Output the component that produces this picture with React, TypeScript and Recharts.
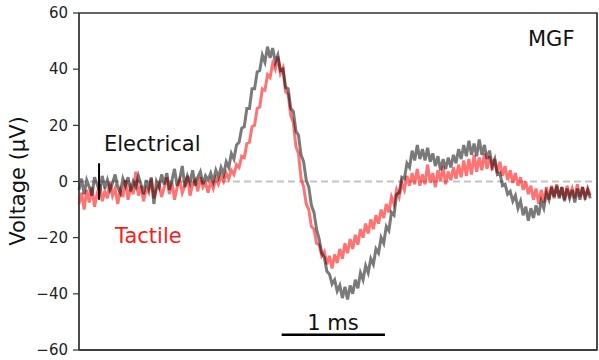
import React from 'react';
import { LineChart, Line, XAxis, YAxis, ReferenceLine, ReferenceDot, ReferenceArea } from 'recharts';

// sampling interval of the averaged traces (ms)
const SAMPLE_MS = 0.025;

// Averaged MGF response to electrical stimulation (µV)
const electrical: number[] = [
  -3, 1, -4.5, 0.5, -2, -5, 1.5, -1, -3.5, 2,
  -2.5, 0.5, -3, -0.5, 2.5, -2, -4, 1, -1.5, 1.5,
  -3.5, 0, -2, 2, -1, -4.5, 0.5, -2.5, 1.5, -8,
  0, -2, 2.5, -1, 3, -3, 0.5, 4.5, -1.5, 1,
  5.5, -2, 2, -0.5, 4, -1.5, 1.5, 3.5, -1, 2,
  0.5, 3, 0, 4, 1.5, 5, 2.5, 7, 5, 10,
  8, 13, 14, 19, 19.5, 26, 26, 33, 33, 39,
  39.5, 45, 42.5, 48, 44, 47.5, 42.5, 45, 39.5, 40,
  33.5, 33, 26, 25, 18, 16.5, 9.5, 7, 0.5, -2,
  -8.5, -11, -17, -20.5, -25.5, -27, -32, -33, -36.5, -35,
  -39, -37, -41.5, -37.5, -42, -37, -40, -35, -38, -32.5,
  -35, -30, -32.5, -27.5, -29.5, -24, -25.5, -20, -22, -16,
  -17.5, -11, -12, -4.5, -4, 1.5, 1, 6.5, 5, 11,
  7.5, 13, 8, 11.5, 7.5, 12, 7, 10, 5.5, 9,
  4, 8, 4.5, 8.5, 5, 9.5, 6.5, 11.5, 8, 13,
  9, 14.5, 9.5, 13.5, 9, 15, 9.5, 13, 8, 11,
  5.5, 8, 2.5, 3, -1.5, -1, -4.5, -3.5, -7, -5,
  -9.5, -7, -12, -9, -14, -9.5, -13, -8.5, -12, -7,
  -9.5, -4, -6.5, -2, -5.5, -1.5, -6, -2, -7, -2.5,
  -6, -3, -7.5, -2.5, -6.5, -2, -5.5, -3, -6,
];

// Averaged MGF response to tactile stimulation (µV)
const tactile: number[] = [
  -8, -4, -10, -3, -7.5, -2, -9, -4.5, -1, -7,
  -3.5, -6, 0, -5, -2.5, -8, -3, -5.5, 0.5, -6.5,
  -2, -4.5, 3.5, -5, -1.5, -7, -2.5, -4, 1, -6,
  -3, -1, -5.5, -2, 1.5, -4.5, -0.5, -6.5, -2, 0.5,
  -4, -1.5, 2, -5, -1, 0.5, -3.5, 1.5, -2, -0.5,
  -4, 0, -2.5, 1, -1, 2, 0, 3, 1, 4,
  2.5, 6, 5, 9, 8.5, 13.5, 14, 19.5, 20, 26,
  26.5, 33, 32.5, 38, 37, 42, 40, 44.5, 38.5, 40.5,
  32, 31, 23.5, 21, 12.5, 10, 1, -2, -8, -10,
  -16, -17, -22, -22.5, -26.5, -25, -29.5, -26.5, -31, -26,
  -29, -24, -27.5, -22, -25.5, -20.5, -24, -19, -22.5, -17,
  -20, -15, -18.5, -13.5, -17, -12, -15, -10, -13, -8,
  -11, -5.5, -8, -3, -5.5, -0.5, -3, 2, -1.5, 3,
  -1, 4.5, -1.5, 2.5, -1, 6, -0.5, 3, -2, 4,
  0, 5.5, -1, 3.5, 0.5, 5, 1, 6, 1.5, 7.5,
  2, 8, 2.5, 9.5, 3.5, 8.5, 4, 10, 4.5, 9,
  4, 8, 3, 7, 2, 5.5, 0.5, 4, -0.5, 3,
  -1.5, 1.5, -3, 0, -4.5, -1.5, -6.5, -2.5, -8, -3,
  -7.5, -2, -6.5, -1.5, -6, -1, -5.5, -2, -6.5, -1.5,
  -5, -2.5, -6, -1, -5.5, -2, -6.5, -2.5, -5,
];

const yTicks = [-60, -40, -20, 0, 20, 40, 60];
const X_MAX_MS = 5.015;
const STIMULUS_MS = 0.194;
const STIMULUS_MARK = [6.5, -6.5];
const SCALE_BAR_MS = [1.962, 2.962];
const SCALE_BAR_LEVEL = -54.6;

const data = electrical.map((v, i) => ({
  t: Math.round(i * SAMPLE_MS * 1000) / 1000,
  electrical: v,
  tactile: tactile[i],
}));

const FONT = 'DejaVu Sans, sans-serif';

const fmt = (v: number) => (v < 0 ? `\u2212${Math.abs(v)}` : `${v}`);

const makeText = (label: string, color: string, anchor: 'start' | 'middle' = 'start') => (p: any) => (
  <text x={p.cx} y={p.cy} fill={color} fontSize={21} fontFamily={FONT} textAnchor={anchor}>
    {label}
  </text>
);

export default function App() {
  return (
    <div style={{ width: 599, height: 360, background: '#fff' }}>
      <style>{`body{margin:0;}`}</style>
      <LineChart
        width={599}
        height={360}
        data={data}
        margin={{ top: 13, right: 0, bottom: 0, left: 0 }}
      >
        <XAxis
          dataKey="t"
          type="number"
          domain={[0, X_MAX_MS]}
          tick={false}
          tickLine={false}
          height={10}
          axisLine={{ stroke: '#333', strokeWidth: 1.3 }}
        />
        <YAxis
          domain={[-60, 60]}
          ticks={yTicks}
          width={79}
          tickFormatter={fmt}
          tickSize={6}
          tickMargin={5}
          interval={0}
          axisLine={{ stroke: '#333', strokeWidth: 1.3 }}
          tickLine={{ stroke: '#333', strokeWidth: 1.2 }}
          tick={{ fill: '#222', fontSize: 15, fontFamily: FONT }}
          label={{
            content: () => (
              <text
                x={25}
                y={181}
                transform="rotate(-90 25 181)"
                textAnchor="middle"
                fontSize={21}
                fontFamily={FONT}
                fill="#111"
              >
                Voltage (µV)
              </text>
            ),
          }}
        />
        <YAxis
          yAxisId="right"
          orientation="right"
          domain={[-60, 60]}
          ticks={yTicks}
          width={2}
          tick={false}
          tickSize={4}
          axisLine={{ stroke: '#333', strokeWidth: 1.3 }}
          tickLine={{ stroke: '#333', strokeWidth: 1.2 }}
        />
        <ReferenceArea
          x1={0}
          x2={X_MAX_MS}
          y1={-60}
          y2={60}
          fill="none"
          stroke="#333"
          strokeWidth={1.3}
          ifOverflow="visible"
        />
        <ReferenceLine y={0} stroke="#c4c4c4" strokeWidth={2} strokeDasharray="7 4" />
        <Line
          dataKey="tactile"
          stroke="#ff0000"
          strokeOpacity={0.55}
          strokeWidth={3}
          dot={false}
          isAnimationActive={false}
          strokeLinejoin="miter"
        />
        <Line
          dataKey="electrical"
          stroke="#000000"
          strokeOpacity={0.52}
          strokeWidth={3}
          dot={false}
          isAnimationActive={false}
          strokeLinejoin="miter"
        />
        <ReferenceLine
          segment={[
            { x: STIMULUS_MS, y: STIMULUS_MARK[0] },
            { x: STIMULUS_MS, y: STIMULUS_MARK[1] },
          ]}
          stroke="#000"
          strokeWidth={2}
        />
        <ReferenceLine
          segment={[
            { x: SCALE_BAR_MS[0], y: SCALE_BAR_LEVEL },
            { x: SCALE_BAR_MS[1], y: SCALE_BAR_LEVEL },
          ]}
          stroke="#000"
          strokeWidth={2.5}
        />
        <ReferenceDot x={0.242} y={10.85} r={0} ifOverflow="visible" shape={makeText('Electrical', '#111')} />
        <ReferenceDot x={0.349} y={-21.9} r={0} ifOverflow="visible" shape={makeText('Tactile', '#ff1a1a')} />
        <ReferenceDot x={4.347} y={48.2} r={0} ifOverflow="visible" shape={makeText('MGF', '#111')} />
        <ReferenceDot x={2.459} y={-52.8} r={0} ifOverflow="visible" shape={makeText('1 ms', '#111', 'middle')} />
      </LineChart>
    </div>
  );
}
